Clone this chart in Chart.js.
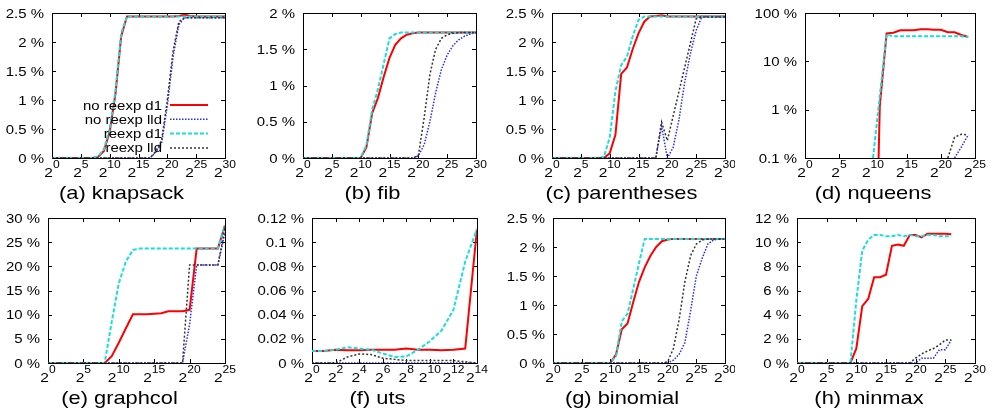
<!DOCTYPE html>
<html>
<head>
<meta charset="utf-8">
<script src="https://cdn.jsdelivr.net/npm/chart.js@4/dist/chart.umd.min.js"></script>
<style>
    html, body { margin: 0; padding: 0; background: #ffffff; }
    #wrap { position: relative; width: 990px; height: 413px; overflow: hidden; }
    .panel { position: absolute; }
</style>
</head>
<body>
<div id="wrap"></div>
<script>
// ── x categories: log2 of the input size ──
const exps30 = [0,1,2,3,4,5,6,7,8,9,10,11,12,13,14,15,16,17,18,19,20,21,22,23,24,25,26,27,28,29,30];
const exps25 = [0,1,2,3,4,5,6,7,8,9,10,11,12,13,14,15,16,17,18,19,20,21,22,23,24,25];
const exps14 = [0,1,2,3,4,5,6,7,8,9,10,11,12,13,14];

// ── tick values ──
const xTicks30 = [0,5,10,15,20,25,30];
const xTicks25 = [0,5,10,15,20,25];
const xTicks14 = [0,2,4,6,8,10,12,14];
const yTicks25 = [0,0.5,1,1.5,2,2.5];
const yTicks2 = [0,0.5,1,1.5,2];
const yTicksLog = [0.1,1,10,100];
const yTicks30 = [0,5,10,15,20,25,30];
const yTicksUts = [0,0.02,0.04,0.06,0.08,0.1,0.12];
const yTicks12 = [0,2,4,6,8,10,12];

const seriesNames = ['no reexp d1', 'no reexp lld', 'reexp d1', 'reexp lld'];

// ── (a) knapsack, values in % ──
const knapNoD1  = [0,0,0,0,0,0,0,0,0.02,0.12,0.45,1.1,2.1,2.44,2.44,2.44,2.44,2.44,2.44,2.44,2.44,2.44,2.45,2.47,2.45,2.44,2.44,2.44,2.44,2.44,2.44];
const knapNoLld = [0,0,0,0,0,0,0,0,0,0,0,0,0,0,0,0,0,0,0.1,0.25,0.9,1.75,2.3,2.42,2.42,2.42,2.42,2.42,2.42,2.42,2.42];
const knapReD1  = [0,0,0,0,0,0,0,0,0.03,0.15,0.5,1.15,2.15,2.44,2.44,2.44,2.44,2.44,2.44,2.44,2.44,2.44,2.44,2.44,2.44,2.44,2.44,2.44,2.44,2.44,2.44];
const knapReLld = [0,0,0,0,0,0,0,0,0,0,0,0,0,0,0,0,0,0,0.12,0.3,1.0,1.85,2.35,2.42,2.42,2.42,2.42,2.42,2.42,2.42,2.42];

// ── (b) fib ──
const fibNoD1  = [0,0,0,0,0,0,0,0,0,0,0,0.15,0.62,0.83,1.12,1.38,1.56,1.65,1.7,1.72,1.73,1.73,1.73,1.73,1.73,1.73,1.73,1.73,1.73,1.73,1.73];
const fibNoLld = [0,0,0,0,0,0,0,0,0,0,0,0,0,0,0,0,0,0,0,0,0.03,0.18,0.5,0.9,1.22,1.42,1.55,1.63,1.68,1.71,1.73];
const fibReD1  = [0,0,0,0,0,0,0,0,0,0,0,0.18,0.67,0.95,1.3,1.65,1.71,1.73,1.73,1.73,1.73,1.73,1.73,1.73,1.73,1.73,1.73,1.73,1.73,1.73,1.73];
const fibReLld = [0,0,0,0,0,0,0,0,0,0,0,0,0,0,0,0,0,0,0,0,0.03,0.55,1.15,1.5,1.65,1.7,1.72,1.73,1.73,1.73,1.73];

// ── (c) parentheses ──
const parNoD1  = [0,0,0,0,0,0,0,0,0,0,0.08,0.4,1.45,1.56,1.88,2.15,2.35,2.44,2.45,2.46,2.44,2.44,2.44,2.44,2.44,2.44,2.44,2.44,2.44,2.44,2.44];
const parNoLld = [0,0,0,0,0,0,0,0,0,0,0,0,0,0,0,0,0,0,0,0.55,0,0.18,0.65,1.3,1.8,2.2,2.44,2.44,2.44,2.44,2.44];
const parReD1  = [0,0,0,0,0,0,0,0,0,0.02,0.35,1.15,1.6,1.75,2.1,2.38,2.44,2.44,2.44,2.44,2.44,2.44,2.44,2.44,2.44,2.44,2.44,2.44,2.44,2.44,2.44];
const parReLld = [0,0,0,0,0,0,0,0,0,0,0,0,0,0,0,0,0,0,0,0.62,0.3,0.72,1.14,1.56,1.98,2.4,2.43,2.43,2.43,2.43,2.43];

// ── (d) nqueens (log axis; 1e-6 stands for zero, below the axis) ──
const nqNoD1  = [null,null,null,null,null,null,null,null,null,null,1e-6,1.2,38,39,44,44,44,46,46,45,45,40,40,35,32,null];
const nqNoLld = [null,null,null,null,null,null,null,null,null,null,null,null,null,null,null,null,null,null,null,null,null,null,0.1,0.17,0.3,null];
const nqReD1  = [null,null,null,null,null,null,null,null,null,null,0.1,1.9,36,33,33,33,33,33,33,33,33,33,33,33,32,null];
const nqReLld = [null,null,null,null,null,null,null,null,null,null,null,null,null,null,null,null,null,null,null,null,null,0.1,0.27,0.31,0.3,null];

// ── (e) graphcol ──
const gcNoD1  = [0,0,0,0,0,0,0,0,0,1.4,4.2,7.2,10.1,10.1,10.1,10.2,10.3,10.7,10.7,10.7,11,23.7,23.7,23.7,23.7,28.5];
const gcNoLld = [0,0,0,0,0,0,0,0,0,0,0,0,0,0,0,0,0,0,0,0,8,20.3,20.3,20.3,20.3,27];
const gcReD1  = [0,0,0,0,0,0,0,0,0,8.5,16.5,21,23.4,23.7,23.7,23.7,23.7,23.7,23.7,23.7,23.7,23.7,23.7,23.7,23.7,28.5];
const gcReLld = [0,0,0,0,0,0,0,0,0,0,0,0,0,0,0,0,0,0,0,0,20.3,20.3,20.3,20.3,20.3,28];

// ── (f) uts ──
const utsNoD1  = [0.01,0.01,0.011,0.0105,0.0105,0.011,0.011,0.011,0.012,0.011,0.011,0.0105,0.011,0.012,0.111];
const utsNoLld = [0,0,0,0,0,0,0,0,0,0,0,0,0,0,0];
const utsReD1  = [0.01,0.01,0.011,0.013,0.012,0.011,0.008,0.005,0.0055,0.011,0.018,0.027,0.044,0.084,0.111];
const utsReLld = [0,0,0,0.005,0.0075,0.007,0.004,0.003,0.002,0.002,0.002,0.002,0.002,0.001,0];

// ── (g) binomial ──
const binNoD1  = [0,0,0,0,0,0,0,0,0,0,0,0.15,0.58,0.68,1.05,1.4,1.65,1.85,2.0,2.1,2.13,2.14,2.14,2.14,2.14,2.14,2.14,2.14,2.14,2.14,2.14];
const binNoLld = [0,0,0,0,0,0,0,0,0,0,0,0,0,0,0,0,0,0,0,0,0,0.05,0.15,0.35,0.9,1.5,1.8,2.05,2.12,2.14,2.14];
const binReD1  = [0,0,0,0,0,0,0,0,0,0,0,0.12,0.72,0.85,1.28,1.72,2.14,2.14,2.14,2.14,2.14,2.14,2.14,2.14,2.14,2.14,2.14,2.14,2.14,2.14,2.14];
const binReLld = [0,0,0,0,0,0,0,0,0,0,0,0,0,0,0,0,0,0,0,0,0.02,0.25,0.75,1.4,1.85,2.05,2.12,2.14,2.14,2.14,2.14];

// ── (h) minmax ──
const mmNoD1  = [0,0,0,0,0,0,0,0,0,0,1.2,4.7,5.3,7.1,7.1,7.3,9.7,9.8,9.7,10.6,10.6,10.4,10.7,10.7,10.7,10.7,10.65,null,null,null,null];
const mmNoLld = [0,0,0,0,0,0,0,0,0,0,0,0,0,0,0,0,0,0,0,0,0,0.4,0.4,0.4,1.1,1.1,1.9,null,null,null,null];
const mmReD1  = [0,0,0,0,0,0,0,0,0,0,5.2,9.3,10.2,10.6,10.6,10.5,10.5,10.6,10.5,10.6,10.5,10.5,10.6,10.6,10.5,10.5,10.5,null,null,null,null];
const mmReLld = [0,0,0,0,0,0,0,0,0,0,0,0,0,0,0,0,0,0,0,0,0.4,0.75,1.0,1.2,1.5,1.9,1.9,null,null,null,null];

// ── look ──
const FONT = '"Liberation Sans", Arial, Helvetica, sans-serif';
const SX = 1.15;   // the source figure is a bit wider than tall
const styles = [
    { color: '#ff0000', width: 2,   dash: [] },
    { color: '#2a2aff', width: 1.5, dash: [1.5, 1.5] },
    { color: '#18dede', width: 2,   dash: [4, 2] },
    { color: '#333333', width: 1.5, dash: [2, 2] }
];

const panels = [
    { title: '(a) knapsack',    box: [0, 0, 245, 206],     frame: [52, 13, 225, 158],  xs: exps30, xt: xTicks30, yt: yTicks25,  s: [knapNoD1, knapNoLld, knapReD1, knapReLld], legend: true },
    { title: '(b) fib',         box: [245, 0, 245, 206],   frame: [303, 13, 476, 158], xs: exps30, xt: xTicks30, yt: yTicks2,   s: [fibNoD1, fibNoLld, fibReD1, fibReLld] },
    { title: '(c) parentheses', box: [490, 0, 245, 206],   frame: [552, 13, 725, 158], xs: exps30, xt: xTicks30, yt: yTicks25,  s: [parNoD1, parNoLld, parReD1, parReLld] },
    { title: '(d) nqueens',     box: [735, 0, 255, 206],   frame: [805, 13, 975, 158], xs: exps25, xt: xTicks25, yt: yTicksLog, s: [nqNoD1, nqNoLld, nqReD1, nqReLld], log: true },
    { title: '(e) graphcol',    box: [0, 206, 245, 207],   frame: [48, 218, 225, 363], xs: exps25, xt: xTicks25, yt: yTicks30,  s: [gcNoD1, gcNoLld, gcReD1, gcReLld] },
    { title: '(f) uts',         box: [245, 206, 245, 207], frame: [312, 218, 477, 363], xs: exps14, xt: xTicks14, yt: yTicksUts, s: [utsNoD1, utsNoLld, utsReD1, utsReLld] },
    { title: '(g) binomial',    box: [490, 206, 245, 207], frame: [553, 218, 725, 363], xs: exps30, xt: xTicks30, yt: yTicks25,  s: [binNoD1, binNoLld, binReD1, binReLld] },
    { title: '(h) minmax',      box: [735, 206, 255, 207], frame: [797, 218, 975, 363], xs: exps30, xt: xTicks30, yt: yTicks12,  s: [mmNoD1, mmNoLld, mmReD1, mmReLld] }
];

// text stretched horizontally like the source
function wideText(ctx, str, x, y, size, align) {
    ctx.save();
    ctx.font = size + 'px ' + FONT;
    const w = ctx.measureText(str).width * SX;
    const x0 = align === 'right' ? x - w : align === 'center' ? x - w / 2 : x;
    ctx.translate(x0, y);
    ctx.scale(SX, 1);
    ctx.textAlign = 'left';
    ctx.textBaseline = 'alphabetic';
    ctx.fillStyle = '#000000';
    ctx.fillText(str, 0, 0);
    ctx.restore();
    return w;
}

function gnuplotLook(p) {
    return {
        id: 'gnuplotLook',
        beforeDatasetsDraw(chart) {
            const ctx = chart.ctx;
            const a = chart.chartArea;
            ctx.save();
            ctx.strokeStyle = '#000000';
            ctx.lineWidth = 1;
            ctx.strokeRect(a.left + 0.5, a.top + 0.5, a.right - a.left, a.bottom - a.top);
            ctx.beginPath();
            chart.scales.x.ticks.forEach(t => {
                const px = Math.round(chart.scales.x.getPixelForValue(t.value)) + 0.5;
                ctx.moveTo(px, a.bottom); ctx.lineTo(px, a.bottom - 4);
                ctx.moveTo(px, a.top); ctx.lineTo(px, a.top + 4);
            });
            chart.scales.y.ticks.forEach(t => {
                const py = Math.round(chart.scales.y.getPixelForValue(t.value)) + 0.5;
                ctx.moveTo(a.left, py); ctx.lineTo(a.left + 4, py);
                ctx.moveTo(a.right, py); ctx.lineTo(a.right - 4, py);
            });
            ctx.stroke();
            ctx.restore();
        },
        afterDraw(chart) {
            const ctx = chart.ctx;
            const a = chart.chartArea;
            const xs = chart.scales.x, ys = chart.scales.y;

            // y tick labels
            ys.ticks.forEach(t => {
                const py = ys.getPixelForValue(t.value);
                wideText(ctx, t.value + ' %', a.left - 8, py + 4.5, 13, 'right');
            });

            // x tick labels 2^n
            xs.ticks.forEach(t => {
                const px = xs.getPixelForValue(t.value);
                ctx.font = '13.5px ' + FONT;
                const w1 = ctx.measureText('2').width;
                ctx.font = '10.5px ' + FONT;
                const w2 = ctx.measureText(String(t.value)).width;
                const x0 = px - (w1 + w2) * SX / 2;
                wideText(ctx, '2', x0, a.bottom + 19, 13.5, 'left');
                wideText(ctx, String(t.value), x0 + w1 * SX, a.bottom + 10, 10.5, 'left');
            });

            // panel caption
            wideText(ctx, p.title, (a.left + a.right) / 2 - 17, a.bottom + 41, 19, 'center');

            // key, inside panel (a)
            if (p.legend) {
                seriesNames.forEach((name, i) => {
                    const cy = a.top + 92 + i * 14.3;
                    wideText(ctx, name, a.left + 110, cy + 4.5, 13, 'right');
                    const st = styles[i];
                    ctx.save();
                    ctx.strokeStyle = st.color;
                    ctx.lineWidth = st.width;
                    ctx.setLineDash(st.dash);
                    ctx.beginPath();
                    ctx.moveTo(a.left + 118, cy);
                    ctx.lineTo(a.left + 156, cy);
                    ctx.stroke();
                    ctx.restore();
                });
            }
        }
    };
}

const wrap = document.getElementById('wrap');

panels.forEach(p => {
    const [bx, by, bw, bh] = p.box;
    const [fl, ft, fr, fb] = p.frame;
    const canvas = document.createElement('canvas');
    canvas.width = bw;
    canvas.height = bh;
    canvas.className = 'panel';
    canvas.style.left = bx + 'px';
    canvas.style.top = by + 'px';
    wrap.appendChild(canvas);

    new Chart(canvas, {
        type: 'line',
        data: {
            datasets: p.s.map((vals, i) => ({
                label: seriesNames[i],
                data: p.xs.map((e, k) => ({ x: e, y: vals[k] })),
                borderColor: styles[i].color,
                borderWidth: styles[i].width,
                borderDash: styles[i].dash,
                pointRadius: 0,
                fill: false,
                tension: 0,
                order: 3 - i      // later series drawn on top
            }))
        },
        options: {
            responsive: false,
            animation: false,
            devicePixelRatio: 1,
            events: [],
            layout: { padding: { left: 0, top: ft - by, right: bx + bw - fr, bottom: 0 } },
            scales: {
                x: {
                    type: 'linear',
                    min: p.xt[0],
                    max: p.xt[p.xt.length - 1],
                    grid: { display: false },
                    border: { display: false },
                    ticks: { display: false },
                    afterBuildTicks: s => { s.ticks = p.xt.map(v => ({ value: v })); },
                    afterFit: s => { s.height = by + bh - fb; }
                },
                y: {
                    type: p.log ? 'logarithmic' : 'linear',
                    min: p.yt[0],
                    max: p.yt[p.yt.length - 1],
                    grid: { display: false },
                    border: { display: false },
                    ticks: { display: false },
                    afterBuildTicks: s => { s.ticks = p.yt.map(v => ({ value: v })); },
                    afterFit: s => { s.width = fl - bx; }
                }
            },
            plugins: {
                legend: { display: false },
                tooltip: { enabled: false }
            }
        },
        plugins: [gnuplotLook(p)]
    });
});
</script>
</body>
</html>
